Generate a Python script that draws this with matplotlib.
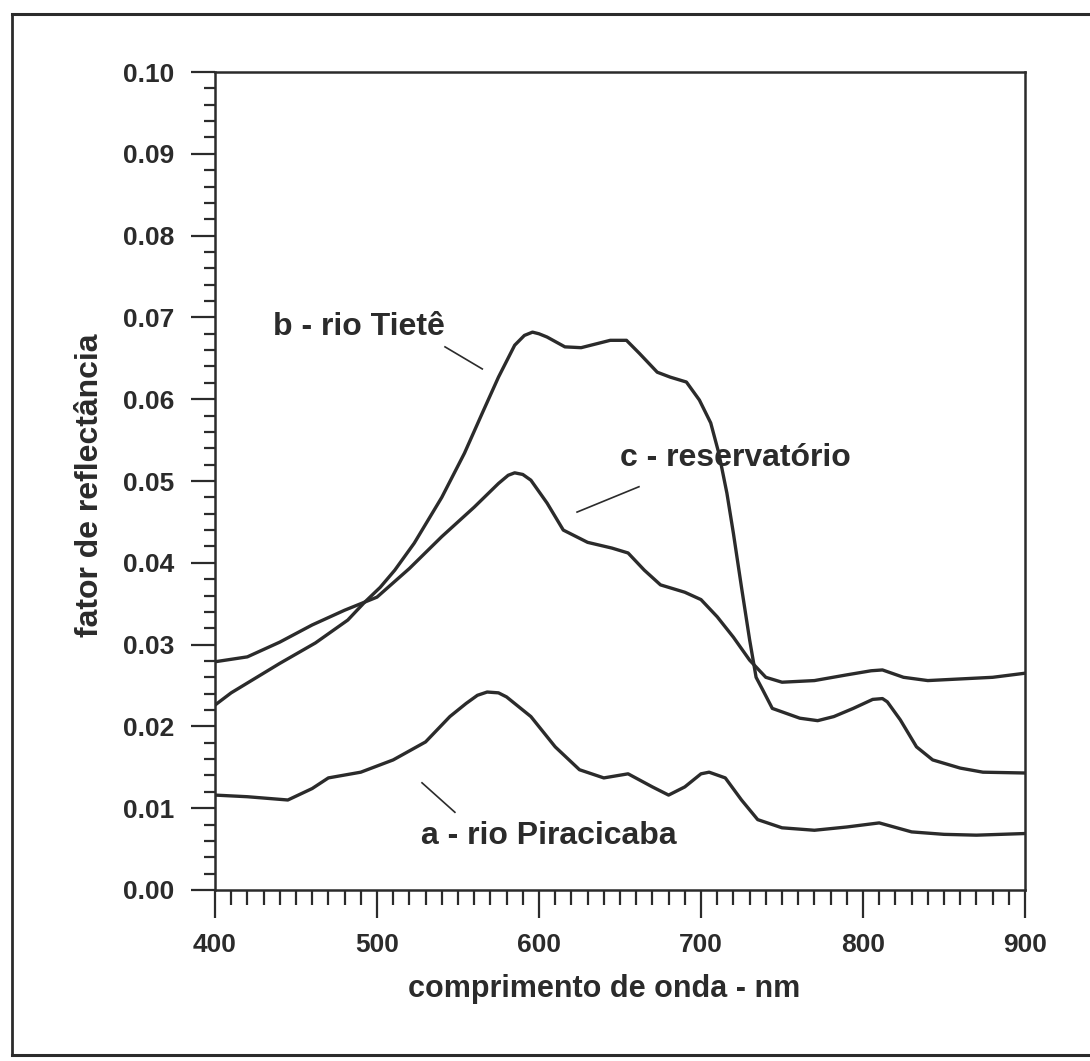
import matplotlib
matplotlib.use("Agg")
import matplotlib.pyplot as plt
from matplotlib.lines import Line2D
from matplotlib.ticker import MultipleLocator

# curva a - rio Piracicaba
wl_a = [400, 420, 445, 460, 470, 490, 510, 530, 545, 555, 562, 568, 575, 580, 595, 610, 625, 640,
        655, 670, 680, 690, 700, 705, 715, 725, 735, 750, 770, 790, 810, 830, 850, 870, 900]
refl_a = [0.0116, 0.0114, 0.0110, 0.0124, 0.0137, 0.0144, 0.0159, 0.0181, 0.0212, 0.0228,
          0.0238, 0.0242, 0.0241, 0.0236, 0.0212, 0.0175, 0.0147, 0.0137, 0.0142, 0.0126,
          0.0116, 0.0126, 0.0142, 0.0144, 0.0137, 0.0110, 0.0086, 0.0076, 0.0073, 0.0077,
          0.0082, 0.0071, 0.0068, 0.0067, 0.0069]

# curva b - rio Tiete
wl_b = [400, 410, 420, 440, 462, 482, 492, 502, 511, 523, 540, 554, 565, 575, 585, 591, 596,
        600, 605, 616, 626, 644, 654, 662, 673, 681, 691, 699, 706, 711, 716, 720, 725, 730,
        734, 738, 744, 761, 772, 782, 794, 806, 812, 815, 823, 833, 843, 860, 874, 900]
refl_b = [0.0226, 0.0241, 0.0253, 0.0277, 0.0302, 0.0330, 0.0351, 0.0370, 0.0391, 0.0424,
          0.0480, 0.0534, 0.0583, 0.0627, 0.0666, 0.0678, 0.0682, 0.0680, 0.0676, 0.0664,
          0.0663, 0.0672, 0.0672, 0.0656, 0.0633, 0.0627, 0.0621, 0.0599, 0.0571, 0.0534,
          0.0485, 0.0436, 0.0370, 0.0306, 0.0260, 0.0245, 0.0222, 0.0210, 0.0207, 0.0212,
          0.0222, 0.0233, 0.0234, 0.0230, 0.0208, 0.0175, 0.0159, 0.0149, 0.0144, 0.0143]

# curva c - reservatorio
wl_c = [400, 420, 440, 460, 480, 500, 520, 540, 560, 575, 581, 585, 590, 595, 605, 615, 630, 645,
        655, 665, 675, 690, 700, 710, 720, 730, 740, 750, 770, 790, 805, 812, 825, 840,
        860, 880, 900]
refl_c = [0.0279, 0.0285, 0.0303, 0.0324, 0.0342, 0.0358, 0.0393, 0.0432, 0.0468, 0.0497,
          0.0507, 0.0510, 0.0508, 0.0501, 0.0473, 0.0440, 0.0425, 0.0418, 0.0412, 0.0391,
          0.0373, 0.0364, 0.0355, 0.0334, 0.0309, 0.0281, 0.0260, 0.0254, 0.0256, 0.0263,
          0.0268, 0.0269, 0.0260, 0.0256, 0.0258, 0.0260, 0.0265]

x_ticks = [400, 500, 600, 700, 800, 900]
y_ticks = [0.00, 0.01, 0.02, 0.03, 0.04, 0.05, 0.06, 0.07, 0.08, 0.09, 0.10]

ink = "#2b2b2b"
plt.rcParams['font.family'] = ['Liberation Sans', 'DejaVu Sans']
plt.rcParams['font.weight'] = 'bold'

fig = plt.figure(figsize=(10.9, 10.61), dpi=100)
ax = fig.add_axes([0.1972, 0.1612, 0.7432, 0.7709])

for wl, r in [(wl_a, refl_a), (wl_b, refl_b), (wl_c, refl_c)]:
    ax.plot(wl, r, color=ink, lw=2.4, solid_joinstyle='round', solid_capstyle='round')

ax.set_xlim(400, 900)
ax.set_ylim(0, 0.10)
ax.set_xticks(x_ticks)
ax.set_yticks(y_ticks)
ax.set_yticklabels([f"{v:.2f}" for v in y_ticks])
ax.xaxis.set_minor_locator(MultipleLocator(10))
ax.yaxis.set_minor_locator(MultipleLocator(0.002))
ax.tick_params(axis='x', which='major', direction='out', length=20, width=1.6,
               pad=11, labelsize=19, colors=ink)
ax.tick_params(axis='x', which='minor', direction='out', length=11, width=1.6, colors=ink)
ax.tick_params(axis='y', which='major', direction='out', length=17, width=1.6,
               pad=12, labelsize=19, colors=ink)
ax.tick_params(axis='y', which='minor', direction='out', length=8, width=1.6, colors=ink)
for s in ax.spines.values():
    s.set_linewidth(1.8)
    s.set_color(ink)

ax.set_xlabel("comprimento de onda - nm", fontsize=22, fontweight='bold', color=ink)
ax.xaxis.set_label_coords(0.48, -0.103)
ax.set_ylabel("fator de reflectância", fontsize=23, fontweight='bold', color=ink)
ax.yaxis.set_label_coords(-0.136, 0.495)

# rotulos das curvas
ax.text(489, 0.0688, "b - rio Tietê", fontsize=23, fontweight='bold', color=ink,
        ha='center', va='center')
ax.text(721, 0.0528, "c - reservatório", fontsize=23, fontweight='bold', color=ink,
        ha='center', va='center')
ax.text(606, 0.0066, "a - rio Piracicaba", fontsize=23, fontweight='bold', color=ink,
        ha='center', va='center')
ax.plot([542, 565], [0.0664, 0.0637], color=ink, lw=1.2)
ax.plot([623.5, 661.7], [0.0462, 0.0493], color=ink, lw=1.2)
ax.plot([527.8, 548.1], [0.0131, 0.0095], color=ink, lw=1.2)

# moldura externa da figura
fx0, fy0, fy1 = 0.011, 0.0057, 0.9868
fig.add_artist(Line2D([fx0, 1.0], [fy1, fy1], color=ink, lw=2.2))
fig.add_artist(Line2D([fx0, 1.0], [fy0, fy0], color=ink, lw=2.2))
fig.add_artist(Line2D([fx0, fx0], [fy0, fy1], color=ink, lw=2.0))

fig.savefig("out.png", dpi=100, facecolor='white')
